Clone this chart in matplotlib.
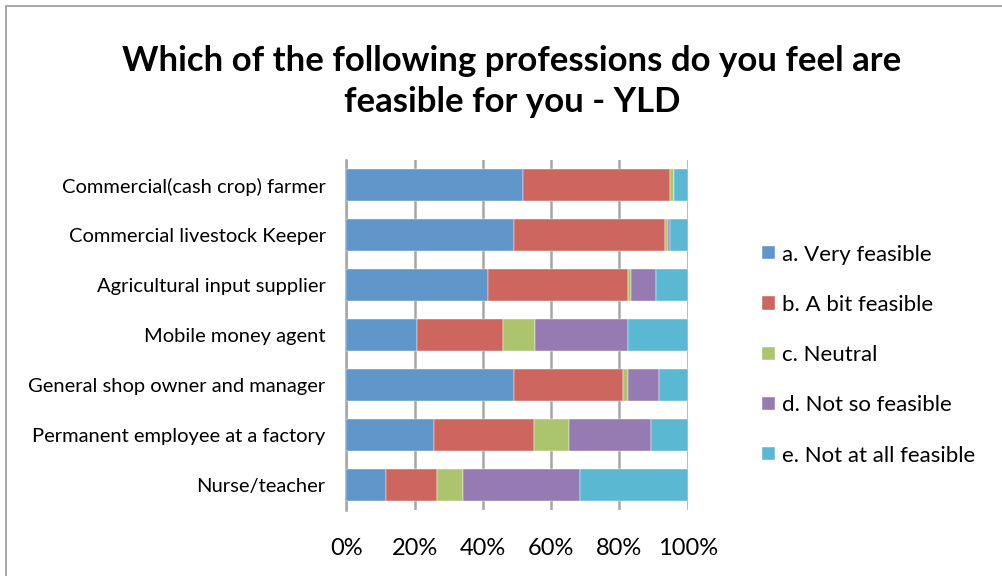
import matplotlib.pyplot as plt
import numpy as np
from matplotlib.patches import Rectangle

plt.rcParams['font.family'] = ['Lato', 'DejaVu Sans']

categories = [
    "Commercial(cash crop) farmer",
    "Commercial livestock Keeper",
    "Agricultural input supplier",
    "Mobile money agent",
    "General shop owner and manager",
    "Permanent employee at a factory",
    "Nurse/teacher",
]
series_names = [
    "a. Very feasible",
    "b. A bit feasible",
    "c. Neutral",
    "d. Not so feasible",
    "e. Not at all feasible",
]
# shares in percent, one list per answer, in category order
very_feasible = [51.7, 49.0, 41.5, 20.8, 49.0, 25.7, 11.5]
bit_feasible = [43.1, 44.3, 41.0, 25.1, 31.9, 29.3, 15.0]
neutral = [1.1, 0.9, 1.0, 9.3, 1.6, 10.1, 7.6]
not_so_feasible = [0.0, 0.7, 7.3, 27.3, 9.2, 24.1, 34.3]
not_at_all = [4.1, 5.1, 9.2, 17.5, 8.3, 10.8, 31.6]
colors = ["#6096C9", "#CD665E", "#ACC46E", "#957BB1", "#5BB8D2"]

fig = plt.figure(figsize=(10.02, 5.76), dpi=100)
fig.patches.append(Rectangle((0.0055, -0.05), 1.2, 1.04, transform=fig.transFigure,
                             fill=False, edgecolor="#9A9A9A", linewidth=1.2))

ax = fig.add_axes([0.3458, 0.1146, 0.3405, 0.6076])
y = np.arange(len(categories))
left = np.zeros(len(categories))
for name, vals, col in zip(series_names,
                           [very_feasible, bit_feasible, neutral, not_so_feasible, not_at_all],
                           colors):
    vals = np.array(vals)
    ax.barh(y, vals, left=left, height=0.64, color=col, label=name,
            edgecolor="white", linewidth=0.3, zorder=3)
    left += vals

ax.set_xlim(0, 100)
ax.set_ylim(len(categories) - 0.5, -0.5)
ax.set_xticks(np.arange(0, 101, 20))
ax.set_xticklabels([f"{t}%" for t in range(0, 101, 20)], fontsize=17)
ax.set_yticks(y)
ax.set_yticklabels(categories, fontsize=14.5)
ax.tick_params(axis="x", length=0, pad=20, colors="black")
ax.tick_params(axis="y", length=0, pad=15, colors="black")
ax.grid(axis="x", color="#A6A6A6", linewidth=1.8, zorder=0)
for s in ["top", "right", "bottom"]:
    ax.spines[s].set_visible(False)
ax.spines["left"].set_color("#A6A6A6")
ax.spines["left"].set_linewidth(1.8)

fig.text(0.511, 0.859, "Which of the following professions do you feel are\nfeasible for you - YLD",
         ha="center", va="center", fontsize=25, fontweight="bold", linespacing=1.33)

fig.legend(loc="upper left", bbox_to_anchor=(0.741, 0.61), frameon=False, fontsize=16,
           handlelength=0.55, handleheight=0.55, handletextpad=0.35, labelspacing=1.36)

fig.savefig("out.png", dpi=100)
